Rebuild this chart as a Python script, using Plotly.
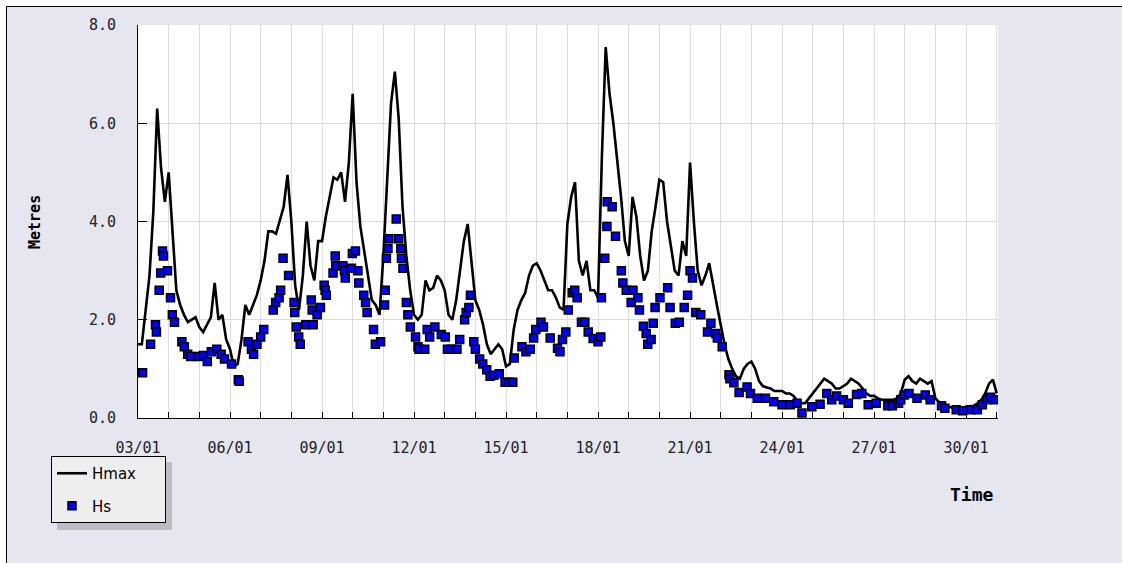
import numpy as np
import pandas as pd
import plotly.graph_objects as go

# ---------------- data ----------------
# Hmax, 3-hourly from 03/01 00:00
hmax = [
    1.5, 1.5, 2.2, 2.9, 4.2, 6.3, 5.1, 4.4,        # 03
    5.0, 3.8, 2.6, 2.3, 2.1, 1.95, 2.0, 2.05,      # 04
    1.85, 1.75, 1.9, 2.05, 2.75, 2.0, 2.1, 1.6,    # 05
    1.4, 1.05, 1.1, 1.6, 2.3, 2.1, 2.3, 2.5,       # 06
    2.8, 3.2, 3.8, 3.8, 3.75, 4.0, 4.3, 4.95,      # 07
    4.0, 2.7, 2.2, 2.9, 4.0, 3.1, 2.8, 3.6,        # 08
    3.6, 4.1, 4.5, 4.9, 4.85, 5.0, 4.4, 5.2,       # 09
    6.6, 4.8, 3.9, 3.4, 2.9, 2.4, 2.3, 2.1,        # 10
    3.3, 5.0, 6.4, 7.05, 6.1, 4.3, 3.3, 2.6,       # 11
    2.1, 2.0, 2.1, 2.8, 2.6, 2.65, 2.9, 2.8,       # 12
    2.6, 2.1, 2.0, 2.4, 3.0, 3.6, 3.95, 3.1,       # 13
    2.4, 2.2, 1.9, 1.5, 1.3, 1.4, 1.5, 1.4,        # 14
    1.05, 1.1, 1.8, 2.2, 2.4, 2.55, 2.9, 3.1,      # 15
    3.15, 3.0, 2.8, 2.6, 2.6, 2.45, 2.25, 2.2,     # 16
    3.95, 4.5, 4.8, 3.2, 2.9, 3.2, 2.6, 2.6,       # 17
    2.45, 5.3, 7.55, 6.6, 6.0, 5.3, 4.5, 3.6,      # 18
    3.3, 4.5, 4.1, 3.3, 2.8, 3.0, 3.8, 4.3,        # 19
    4.85, 4.8, 4.0, 3.5, 3.0, 2.9, 3.6, 3.3,       # 20
    5.2, 4.0, 3.0, 2.7, 2.9, 3.15, 2.7, 2.3,       # 21
    1.9, 1.5, 1.2, 1.0, 0.85, 0.8, 1.0, 1.1,       # 22
    1.15, 1.0, 0.75, 0.65, 0.62, 0.6, 0.55, 0.55,  # 23
    0.55, 0.5, 0.5, 0.45, 0.35, 0.3, 0.3, 0.4,     # 24
    0.5, 0.6, 0.7, 0.8, 0.75, 0.7, 0.6, 0.6,       # 25
    0.65, 0.7, 0.8, 0.75, 0.7, 0.6, 0.5, 0.45,     # 26
    0.45, 0.4, 0.37, 0.37, 0.37, 0.37, 0.4, 0.5,   # 27
    0.78, 0.85, 0.75, 0.7, 0.8, 0.75, 0.7, 0.75,   # 28
    0.4, 0.32, 0.28, 0.23, 0.22, 0.2, 0.2, 0.22,   # 29
    0.23, 0.24, 0.25, 0.3, 0.37, 0.5, 0.7, 0.78,   # 30
    0.5,                                           # 31
]

# Hs observations: day of month (decimal) and value
hs_day = [
    3.15, 3.41, 3.57, 3.6, 3.69, 3.74, 3.8, 3.83, 3.96,
    4.06, 4.12, 4.19, 4.43, 4.51, 4.62, 4.72, 4.97,
    5.13, 5.26, 5.39, 5.57, 5.71, 5.82,
    6.05, 6.27, 6.3, 6.59, 6.7, 6.77, 6.88,
    7.0, 7.1, 7.41, 7.49, 7.6, 7.65, 7.73, 7.91,
    8.09, 8.11, 8.16, 8.24, 8.29, 8.47, 8.65, 8.68, 8.71, 8.84, 8.95,
    9.07, 9.1, 9.14, 9.36, 9.43, 9.45, 9.68, 9.73, 9.76, 9.96, 9.99,
    10.09, 10.17, 10.2, 10.36, 10.42, 10.47, 10.68, 10.74, 10.91,
    11.04, 11.06, 11.1, 11.15, 11.18, 11.42, 11.5, 11.57, 11.59, 11.64, 11.75, 11.8, 11.88,
    12.05, 12.13, 12.16, 12.35, 12.43, 12.51, 12.68, 12.89,
    13.02, 13.09, 13.22, 13.4, 13.49, 13.65, 13.7, 13.79, 13.84, 13.95,
    14.0, 14.14, 14.24, 14.37, 14.48, 14.6, 14.78, 14.97,
    15.1, 15.22, 15.27, 15.52, 15.65, 15.79, 15.9, 15.97,
    16.14, 16.22, 16.44, 16.68, 16.76, 16.84, 16.95,
    17.03, 17.16, 17.24, 17.32, 17.46, 17.57, 17.68, 17.84,
    18.0, 18.09, 18.11, 18.22, 18.29, 18.3, 18.46, 18.57, 18.76, 18.81, 18.92,
    19.08, 19.14, 19.3, 19.35, 19.48, 19.57, 19.62, 19.73, 19.8, 19.86,
    20.02, 20.27, 20.35, 20.52, 20.65, 20.81, 20.92,
    21.0, 21.08, 21.19, 21.35, 21.57, 21.68, 21.84, 21.89,
    22.05, 22.27, 22.3, 22.43, 22.6, 22.86, 22.97,
    23.19, 23.46, 23.73, 24.0, 24.27, 24.49, 24.65, 24.97,
    25.24, 25.46, 25.62, 25.78, 26.0, 26.16, 26.43, 26.6, 26.81,
    27.07, 27.45, 27.6, 27.8, 27.87, 27.98, 28.14, 28.4, 28.67, 28.83,
    29.2, 29.31, 29.68, 29.89, 30.16, 30.37, 30.53, 30.69, 30.8, 30.96,
]
hs_value = [
    0.92, 1.5, 1.9, 1.75, 2.6, 2.95, 3.4, 3.3, 3.0,
    2.45, 2.1, 1.95, 1.55, 1.45, 1.3, 1.25, 1.25,
    1.27, 1.15, 1.35, 1.4, 1.3, 1.2,
    1.1, 0.78, 0.75, 1.55, 1.4, 1.3, 1.5,
    1.65, 1.8, 2.2, 2.35, 2.45, 2.6, 3.25, 2.9,
    2.35, 2.15, 1.85, 1.65, 1.5, 1.9, 2.4, 2.2, 1.9, 2.1, 2.25,
    2.7, 2.6, 2.5, 2.95, 3.3, 3.1, 3.1, 3.0, 2.85, 3.05, 3.35,
    3.4, 3.0, 2.75, 2.5, 2.35, 2.15, 1.8, 1.5, 1.55,
    2.3, 2.6, 3.25, 3.45, 3.65, 4.05, 3.65, 3.45, 3.25, 3.05, 2.35, 2.1, 1.85,
    1.65, 1.45, 1.4, 1.4, 1.8, 1.65, 1.85, 1.7,
    1.65, 1.4, 1.4, 1.4, 1.6, 2.0, 2.15, 2.25, 2.5, 1.55,
    1.4, 1.2, 1.1, 0.98, 0.85, 0.87, 0.9, 0.73,
    0.73, 0.73, 1.22, 1.45, 1.35, 1.4, 1.63, 1.8,
    1.95, 1.85, 1.63, 1.42, 1.35, 1.6, 1.75,
    2.2, 2.55, 2.6, 2.45, 1.95, 1.95, 1.75, 1.62,
    1.55, 1.65, 2.45, 3.25, 3.9, 4.4, 4.3, 3.7, 3.0, 2.75, 2.6,
    2.35, 2.6, 2.45, 2.2, 1.87, 1.72, 1.5, 1.6, 1.93, 2.25,
    2.45, 2.65, 2.25, 1.93, 1.95, 2.25, 2.5,
    3.0, 2.85, 2.15, 2.1, 1.75, 1.93, 1.72, 1.63,
    1.45, 0.88, 0.8, 0.72, 0.52, 0.63, 0.5,
    0.4, 0.4, 0.33, 0.27, 0.27, 0.3, 0.1, 0.23,
    0.28, 0.5, 0.37, 0.45, 0.37, 0.3, 0.48, 0.5, 0.27,
    0.3, 0.25, 0.25, 0.3, 0.37, 0.47, 0.5, 0.4, 0.47, 0.37,
    0.25, 0.2, 0.17, 0.15, 0.17, 0.17, 0.27, 0.37, 0.42, 0.37,
]

x_start = "2005-01-03 00:00"
x_end = "2005-01-31 01:00"
y_ticks = [0, 2, 4, 6, 8]

# ---------------- figure ----------------
hmax_t = pd.date_range("2005-01-03", periods=len(hmax), freq="3h")
hs_t = pd.Timestamp("2005-01-01") + pd.to_timedelta(np.array(hs_day) - 1, unit="D")

fig = go.Figure()
fig.add_trace(go.Scatter(
    x=hmax_t, y=hmax, mode="lines", name="Hmax\u00a0\u00a0\u00a0\u00a0\u00a0",
    legendgroup="a",
    line=dict(color="black", width=2.6),
))
fig.add_trace(go.Scatter(
    x=hs_t, y=hs_value, mode="markers", name="Hs",
    legendgroup="b",
    marker=dict(symbol="square", size=8, color="#0000FF",
                line=dict(color="black", width=1.5)),
))

W, H = 1122, 563
L, R, T, B = 138, 998, 25, 418


def px(x):
    return (x - L) / (R - L)


def py(y):
    return (B - y) / (B - T)


BG = "#E6E6F0"
GRID = "#DDDDDD"
tick_font = dict(family="DejaVu Sans Mono", size=15, color="#222222")

shapes = [
    # white outer strips and black frame (top/left)
    dict(type="rect", xref="paper", yref="paper", x0=px(0), x1=px(W), y0=py(0), y1=py(6),
         fillcolor="white", line=dict(width=0)),
    dict(type="rect", xref="paper", yref="paper", x0=px(0), x1=px(6), y0=py(0), y1=py(H),
         fillcolor="white", line=dict(width=0)),
    dict(type="line", xref="paper", yref="paper", x0=px(6.5), x1=px(W), y0=py(6.5), y1=py(6.5),
         line=dict(color="black", width=1)),
    dict(type="line", xref="paper", yref="paper", x0=px(6.5), x1=px(6.5), y0=py(6.5), y1=py(H),
         line=dict(color="black", width=1)),
    # legend shadow
    dict(type="rect", xref="paper", yref="paper", x0=px(57), x1=px(172), y0=py(462), y1=py(530),
         fillcolor="#BDBDC4", line=dict(width=0)),
]

fig.update_layout(
    width=W, height=H,
    margin=dict(l=L, r=W - R, t=T, b=H - B, autoexpand=False),
    paper_bgcolor=BG, plot_bgcolor="white",
    shapes=shapes,
    showlegend=True,
    legend=dict(
        x=px(51), y=py(456), xanchor="left", yanchor="top",
        bgcolor="#EEEEEE", bordercolor="black", borderwidth=1,
        font=dict(family="DejaVu Sans", size=15, color="black"),
        itemwidth=30, tracegroupgap=10,
    ),
    annotations=[
        dict(text="<b>Metres</b>", xref="paper", yref="paper", x=px(35), y=py(222),
             textangle=-90, showarrow=False, xanchor="center", yanchor="middle",
             font=dict(family="DejaVu Sans Mono", size=15, color="black")),
        dict(text="<b>Time</b>", xref="paper", yref="paper", x=px(996), y=py(495),
             showarrow=False, xanchor="right", yanchor="middle",
             font=dict(family="DejaVu Sans Mono", size=18, color="black")),
    ],
)

fig.update_xaxes(
    type="date", range=[x_start, x_end],
    tick0="2005-01-03", dtick=3 * 86400000, tickformat="%d/%m",
    ticks="inside", ticklen=6, tickcolor="black", tickwidth=1,
    showgrid=True, gridcolor=GRID, gridwidth=1,
    minor=dict(dtick=86400000, showgrid=True, gridcolor=GRID, gridwidth=1,
               ticks="inside", ticklen=6, tickcolor="black"),
    showline=True, linecolor="black", linewidth=1,
    tickfont=tick_font, ticklabelstandoff=16,
    zeroline=False, fixedrange=True,
)
fig.update_yaxes(
    range=[0, 8], tickvals=y_ticks, tickformat=".1f",
    ticks="inside", ticklen=9, tickcolor="black", tickwidth=1,
    showgrid=True, gridcolor=GRID, gridwidth=1,
    showline=True, linecolor="black", linewidth=1,
    tickfont=tick_font, ticklabelstandoff=18,
    zeroline=False, fixedrange=True,
)

fig.write_html(
    "out.html",
    config={"displayModeBar": False},
    post_script="document.body.style.margin='0px';document.body.style.overflow='hidden';",
)
